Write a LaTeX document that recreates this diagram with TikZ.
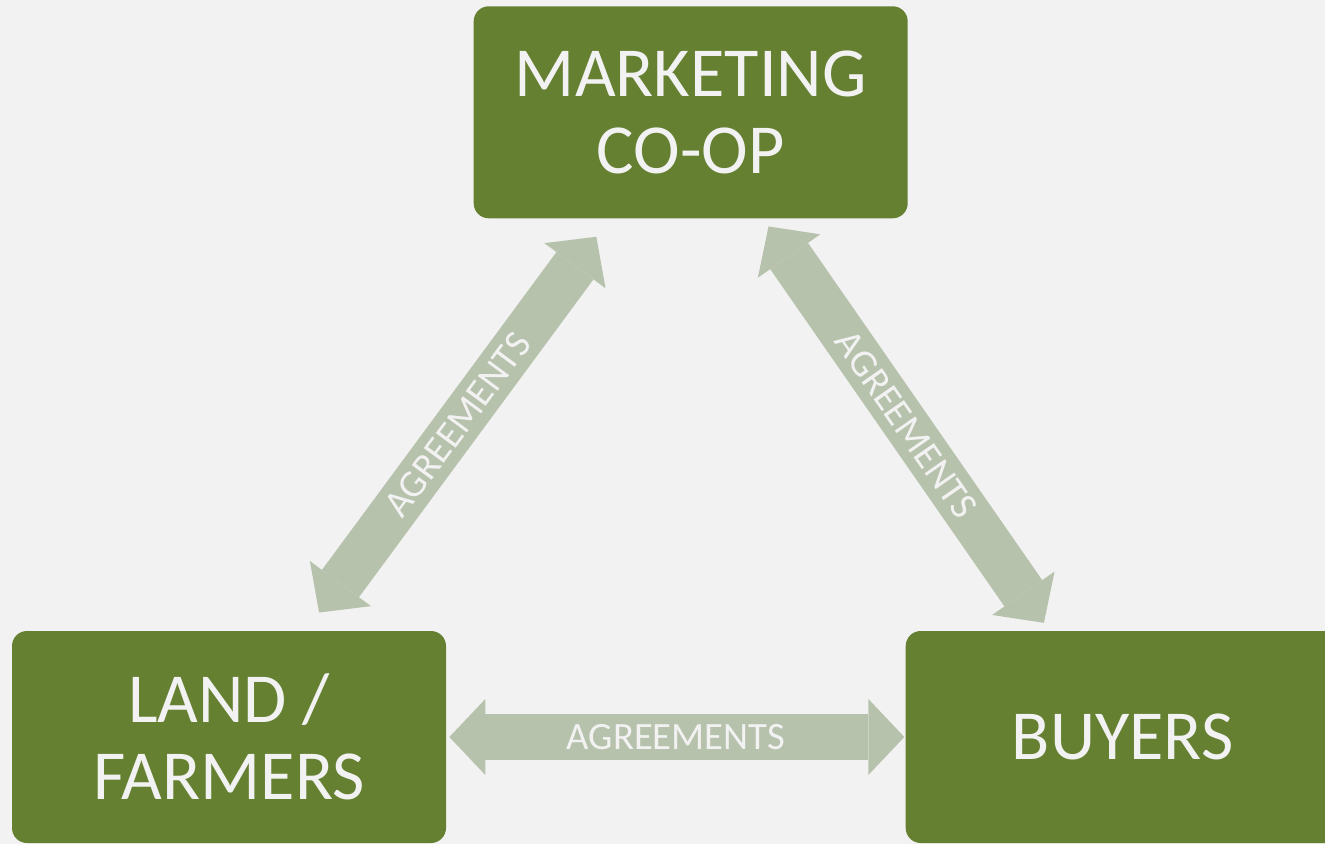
\documentclass[tikz,border=0pt]{standalone}
\usepackage{fontspec}
\setmainfont{Carlito}
\usetikzlibrary{arrows.meta, positioning}

\definecolor{bgc}{RGB}{242,242,242}
\definecolor{olivebox}{RGB}{102,128,50}
\definecolor{sage}{RGB}{183,194,173}

\begin{document}
\begin{tikzpicture}[
        party/.style={rectangle, fill=olivebox, rounded corners=0.3cm, inner sep=0pt,
                      minimum width=8.68cm, minimum height=4.24cm, align=center,
                      text=bgc, font=\fontsize{40}{44}\selectfont},
        deal/.style={{Triangle[width=1.52cm,length=0.72cm,line width=0pt]}-{Triangle[width=1.52cm,length=0.72cm,line width=0pt]},
                     line width=0.92cm, line cap=butt, sage},
        tag/.style={text=bgc, font=\fontsize{22}{24}\selectfont, inner sep=0pt}]
      \useasboundingbox[fill=bgc] (0,0) rectangle (26.5,16.88);
      \node[party] (farm) at (4.58,2.14) {LAND /\\FARMERS};
      \node[party, right=9.18cm of farm] (buyers) {BUYERS};
      \node[party, above right=8.24cm and 0.54cm of farm] (coop) {MARKETING\\CO-OP};
      % agreements between the three parties
      \draw[deal, shorten <=0.45cm, shorten >=0.45cm]
        ([xshift=1.534cm]farm.north) -- node[tag, sloped] {AGREEMENTS} ([xshift=-1.62cm]coop.south);
      \draw[deal, shorten <=0.19cm, shorten >=0.19cm]
        ([xshift=1.448cm]coop.south) -- node[tag, sloped] {AGREEMENTS} ([xshift=-1.468cm]buyers.north);
      \draw[deal, shorten <=0.06cm, shorten >=0.02cm]
        (farm.east) -- node[tag] {AGREEMENTS} (buyers.west);
\end{tikzpicture}
\end{document}
